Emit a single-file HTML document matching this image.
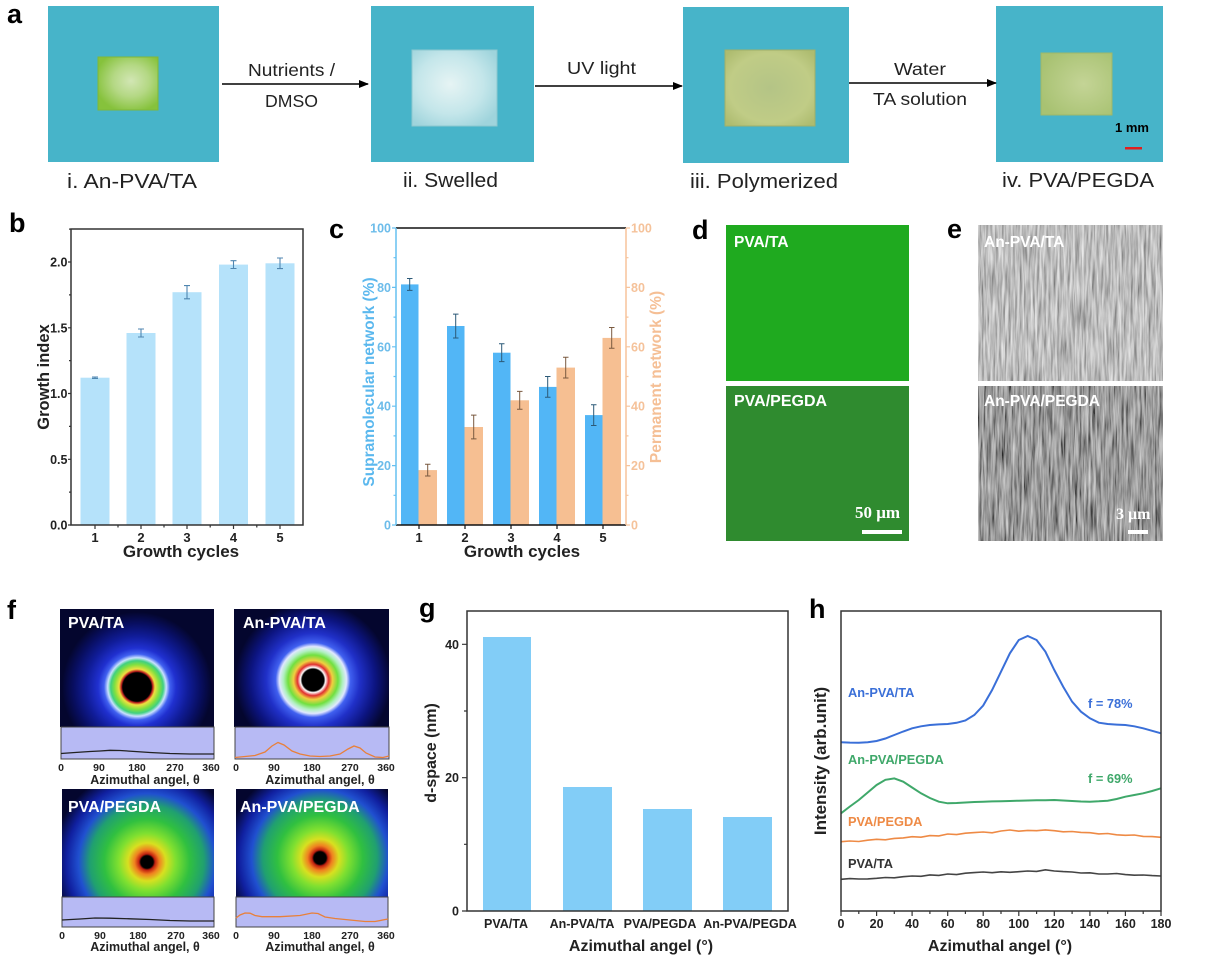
<!DOCTYPE html>
<html><head><meta charset="utf-8"><style>
html,body{margin:0;padding:0;background:#fff;}
svg{display:block;}
text{font-family:"Liberation Sans",Arial,sans-serif;}
.L{font-weight:bold;font-size:27px;fill:#000;}
.b{font-weight:bold;}
.serif{font-family:"Liberation Serif",serif;font-weight:bold;}
</style></head><body>
<svg width="1213" height="962" viewBox="0 0 1213 962" xmlns="http://www.w3.org/2000/svg">
<defs>
<radialGradient id="gel1" cx="0.55" cy="0.45" r="0.6"><stop offset="0" stop-color="#d2e6b4"/><stop offset="0.5" stop-color="#b4d884"/><stop offset="1" stop-color="#86c23c"/></radialGradient>
<radialGradient id="gel2" cx="0.45" cy="0.45" r="0.65"><stop offset="0" stop-color="#e6f4f4"/><stop offset="0.6" stop-color="#c4e6ea"/><stop offset="1" stop-color="#9fd4dc"/></radialGradient>
<radialGradient id="gel3" cx="0.5" cy="0.5" r="0.65"><stop offset="0" stop-color="#b4c486"/><stop offset="0.7" stop-color="#c0cc86"/><stop offset="1" stop-color="#aebc70"/></radialGradient>
<radialGradient id="gel4" cx="0.6" cy="0.5" r="0.65"><stop offset="0" stop-color="#c4d496"/><stop offset="1" stop-color="#a8c272"/></radialGradient>
<radialGradient id="f1" gradientUnits="userSpaceOnUse" cx="137" cy="687" r="75">
<stop offset="0" stop-color="#000"/><stop offset="0.19" stop-color="#000"/><stop offset="0.21" stop-color="#c02020"/><stop offset="0.24" stop-color="#f0e040"/><stop offset="0.3" stop-color="#80e040"/><stop offset="0.35" stop-color="#40d080"/><stop offset="0.39" stop-color="#c8e0ff"/><stop offset="0.44" stop-color="#4060f0"/><stop offset="0.52" stop-color="#2030d0"/><stop offset="0.68" stop-color="#101c98"/><stop offset="0.85" stop-color="#080e60"/><stop offset="1" stop-color="#04062e"/></radialGradient>
<radialGradient id="f2" gradientUnits="userSpaceOnUse" cx="313" cy="680" r="78">
<stop offset="0" stop-color="#000"/><stop offset="0.14" stop-color="#000"/><stop offset="0.16" stop-color="#fff"/><stop offset="0.2" stop-color="#e03030"/><stop offset="0.25" stop-color="#f0d040"/><stop offset="0.32" stop-color="#70e040"/><stop offset="0.38" stop-color="#b0f0c0"/><stop offset="0.43" stop-color="#e0e8ff"/><stop offset="0.48" stop-color="#4060f0"/><stop offset="0.6" stop-color="#2030c8"/><stop offset="0.8" stop-color="#0c1480"/><stop offset="1" stop-color="#04062e"/></radialGradient>
<radialGradient id="f3" gradientUnits="userSpaceOnUse" cx="147" cy="862" r="95">
<stop offset="0" stop-color="#000"/><stop offset="0.065" stop-color="#000"/><stop offset="0.085" stop-color="#c02010"/><stop offset="0.13" stop-color="#f08020"/><stop offset="0.2" stop-color="#d8e020"/><stop offset="0.3" stop-color="#80e030"/><stop offset="0.45" stop-color="#30c040"/><stop offset="0.6" stop-color="#20a070"/><stop offset="0.72" stop-color="#2050d0"/><stop offset="0.85" stop-color="#1020a0"/><stop offset="1" stop-color="#04062e"/></radialGradient>
<radialGradient id="f4" gradientUnits="userSpaceOnUse" cx="320" cy="858" r="95">
<stop offset="0" stop-color="#000"/><stop offset="0.065" stop-color="#000"/><stop offset="0.085" stop-color="#c02010"/><stop offset="0.13" stop-color="#f08020"/><stop offset="0.2" stop-color="#d8e020"/><stop offset="0.3" stop-color="#80e030"/><stop offset="0.45" stop-color="#30c040"/><stop offset="0.6" stop-color="#20a070"/><stop offset="0.72" stop-color="#2050d0"/><stop offset="0.85" stop-color="#1020a0"/><stop offset="1" stop-color="#04062e"/></radialGradient>
<filter id="semTop" filterUnits="userSpaceOnUse" x="978" y="225" width="185" height="156">
<feTurbulence type="fractalNoise" baseFrequency="0.45 0.03" numOctaves="3" seed="4"/>
<feColorMatrix type="matrix" values="0.9 0 0 0 0.06  0.9 0 0 0 0.06  0.9 0 0 0 0.06  0 0 0 0 1"/>
</filter>
<filter id="semBot" filterUnits="userSpaceOnUse" x="978" y="386" width="185" height="155">
<feTurbulence type="fractalNoise" baseFrequency="0.45 0.03" numOctaves="3" seed="9"/>
<feColorMatrix type="matrix" values="0.9 0 0 0 -0.12  0.9 0 0 0 -0.12  0.9 0 0 0 -0.12  0 0 0 0 1"/>
</filter>
<marker id="ah" markerWidth="10" markerHeight="8" refX="9" refY="4" orient="auto" markerUnits="userSpaceOnUse"><path d="M0,0 L10,4 L0,8 Z" fill="#000"/></marker>
</defs>

<!-- ===== Panel a ===== -->
<text class="L" x="7" y="23">a</text>
<rect x="48" y="6" width="171" height="156" fill="#47b4c9"/>
<rect x="98" y="57" width="60" height="53" fill="url(#gel1)" stroke="#7fb83a" stroke-width="1"/>
<rect x="371" y="6" width="163" height="156" fill="#47b4c9"/>
<rect x="412" y="50" width="85" height="76" fill="url(#gel2)" stroke="#8cc8d0" stroke-width="1"/>
<rect x="683" y="7" width="166" height="156" fill="#47b4c9"/>
<rect x="725" y="50" width="90" height="76" fill="url(#gel3)" stroke="#9fb06a" stroke-width="1"/>
<rect x="996" y="6" width="167" height="156" fill="#47b4c9"/>
<rect x="1041" y="53" width="71" height="62" fill="url(#gel4)" stroke="#9db86a" stroke-width="1"/>
<text class="b" x="1115" y="132" font-size="13" fill="#000">1 mm</text>
<rect x="1125" y="147" width="17" height="2.5" fill="#e02020"/>

<line x1="222" y1="84" x2="368" y2="84" stroke="#000" stroke-width="1.6" marker-end="url(#ah)"/>
<line x1="535" y1="86" x2="682" y2="86" stroke="#000" stroke-width="1.6" marker-end="url(#ah)"/>
<line x1="849" y1="83" x2="996" y2="83" stroke="#000" stroke-width="1.6" marker-end="url(#ah)"/>
<text x="248" y="76" font-size="17.5" fill="#222" textLength="87" lengthAdjust="spacingAndGlyphs">Nutrients /</text>
<text x="265" y="107" font-size="17.5" fill="#222" textLength="53" lengthAdjust="spacingAndGlyphs">DMSO</text>
<text x="567" y="74" font-size="17.5" fill="#222" textLength="69" lengthAdjust="spacingAndGlyphs">UV light</text>
<text x="894" y="75" font-size="17.5" fill="#222" textLength="52" lengthAdjust="spacingAndGlyphs">Water</text>
<text x="873" y="105" font-size="17.5" fill="#222" textLength="94" lengthAdjust="spacingAndGlyphs">TA solution</text>
<text x="67" y="188" font-size="20" fill="#222" textLength="130" lengthAdjust="spacingAndGlyphs">i. An-PVA/TA</text>
<text x="403" y="187" font-size="20" fill="#222" textLength="95" lengthAdjust="spacingAndGlyphs">ii. Swelled</text>
<text x="690" y="188" font-size="20" fill="#222" textLength="148" lengthAdjust="spacingAndGlyphs">iii. Polymerized</text>
<text x="1002" y="187" font-size="20" fill="#222" textLength="152" lengthAdjust="spacingAndGlyphs">iv. PVA/PEGDA</text>

<!-- ===== Panel b ===== -->
<text class="L" x="9" y="232">b</text>
<g fill="#b5e2fa">
<rect x="80.5" y="377.7" width="29" height="147.3"/>
<rect x="126.5" y="333" width="29" height="192"/>
<rect x="172.5" y="292.2" width="29" height="232.8"/>
<rect x="219" y="264.6" width="29" height="260.4"/>
<rect x="265.5" y="263.3" width="29" height="261.7"/>
</g>
<g stroke="#4f86b0" stroke-width="1.1" fill="none">
<path d="M95,377 V378.4 M92,377 H98 M92,378.4 H98"/>
<path d="M141,329 V337 M138,329 H144 M138,337 H144"/>
<path d="M187,285.6 V298.8 M184,285.6 H190 M184,298.8 H190"/>
<path d="M233.5,260.7 V268.5 M230.5,260.7 H236.5 M230.5,268.5 H236.5"/>
<path d="M280,258 V268.6 M277,258 H283 M277,268.6 H283"/>
</g>
<rect x="71" y="229" width="232" height="296" fill="none" stroke="#333" stroke-width="1.5"/>
<g stroke="#333" stroke-width="1.2">
<path d="M71,525 h-3 M71,459.3 h-3 M71,393.5 h-3 M71,327.8 h-3 M71,262 h-3"/>
<path d="M71,492.1 h-2 M71,426.4 h-2 M71,360.6 h-2 M71,294.9 h-2 M71,229.1 h-2"/>
<path d="M95,525 v4 M141,525 v4 M187,525 v4 M233.5,525 v4 M280,525 v4"/>
<path d="M118,525 v2.5 M164,525 v2.5 M210.2,525 v2.5 M256.8,525 v2.5"/>
</g>
<g class="b" font-size="12.5" fill="#222" text-anchor="end">
<text x="67.5" y="529.5">0.0</text><text x="67.5" y="463.8">0.5</text><text x="67.5" y="398">1.0</text><text x="67.5" y="332.3">1.5</text><text x="67.5" y="266.5">2.0</text>
</g>
<g class="b" font-size="13" fill="#222" text-anchor="middle">
<text x="95" y="542">1</text><text x="141" y="542">2</text><text x="187" y="542">3</text><text x="233.5" y="542">4</text><text x="280" y="542">5</text>
</g>
<text class="b" x="181" y="557" font-size="17" fill="#222" text-anchor="middle">Growth cycles</text>
<text class="b" font-size="16.5" fill="#222" text-anchor="middle" transform="translate(49,377) rotate(-90)">Growth index</text>

<!-- ===== Panel c ===== -->
<text class="L" x="329" y="238">c</text>
<g fill="#52b6f6">
<rect x="401" y="284.4" width="17.5" height="240.6"/>
<rect x="447" y="326" width="17.5" height="199"/>
<rect x="493" y="352.7" width="17.5" height="172.3"/>
<rect x="539" y="386.9" width="17.5" height="138.1"/>
<rect x="585" y="415.1" width="17.5" height="109.9"/>
</g>
<g fill="#f6bf92">
<rect x="418.5" y="470.1" width="18.5" height="54.9"/>
<rect x="464.5" y="427" width="18.5" height="98"/>
<rect x="510.5" y="400.3" width="18.5" height="124.7"/>
<rect x="556.5" y="367.6" width="18.5" height="157.4"/>
<rect x="602.5" y="337.9" width="18.5" height="187.1"/>
</g>
<g stroke="#2c5a78" stroke-width="1" fill="none">
<path d="M409.7,278.5 V290.4 M407,278.5 h5.5 M407,290.4 h5.5"/>
<path d="M455.7,314.1 V338 M453,314.1 h5.5 M453,338 h5.5"/>
<path d="M501.7,343.8 V361.6 M499,343.8 h5.5 M499,361.6 h5.5"/>
<path d="M547.7,376.5 V397.3 M545,376.5 h5.5 M545,397.3 h5.5"/>
<path d="M593.7,404.7 V425.5 M591,404.7 h5.5 M591,425.5 h5.5"/>
</g>
<g stroke="#7a5a40" stroke-width="1" fill="none">
<path d="M427.7,464.2 V476 M425,464.2 h5.5 M425,476 h5.5"/>
<path d="M473.7,415.1 V438.9 M471,415.1 h5.5 M471,438.9 h5.5"/>
<path d="M519.7,391.4 V409.2 M517,391.4 h5.5 M517,409.2 h5.5"/>
<path d="M565.7,357.2 V378 M563,357.2 h5.5 M563,378 h5.5"/>
<path d="M611.7,327.5 V348.3 M609,327.5 h5.5 M609,348.3 h5.5"/>
</g>
<line x1="396" y1="228" x2="626" y2="228" stroke="#111" stroke-width="1.5"/>
<line x1="396" y1="525" x2="626" y2="525" stroke="#111" stroke-width="1.5"/>
<line x1="396" y1="228" x2="396" y2="525" stroke="#66c0f0" stroke-width="1.5"/>
<line x1="626" y1="228" x2="626" y2="525" stroke="#f7c49c" stroke-width="1.5"/>
<g stroke="#66c0f0" stroke-width="1.2">
<path d="M396,525 h-4 M396,465.6 h-4 M396,406.2 h-4 M396,346.8 h-4 M396,287.4 h-4 M396,228 h-4"/>
<path d="M396,495.3 h-2.5 M396,435.9 h-2.5 M396,376.5 h-2.5 M396,317.1 h-2.5 M396,257.7 h-2.5"/>
</g>
<g stroke="#f7c49c" stroke-width="1.2">
<path d="M626,525 h4 M626,465.6 h4 M626,406.2 h4 M626,346.8 h4 M626,287.4 h4 M626,228 h4"/>
<path d="M626,495.3 h2.5 M626,435.9 h2.5 M626,376.5 h2.5 M626,317.1 h2.5 M626,257.7 h2.5"/>
</g>
<g stroke="#111" stroke-width="1.2">
<path d="M419,525 v4 M465,525 v4 M511,525 v4 M557,525 v4 M603,525 v4"/>
</g>
<g class="b" font-size="12.5" fill="#6cbcea" text-anchor="end">
<text x="391" y="529.5">0</text><text x="391" y="470">20</text><text x="391" y="410.7">40</text><text x="391" y="351.3">60</text><text x="391" y="291.9">80</text><text x="391" y="232.5">100</text>
</g>
<g class="b" font-size="12.5" fill="#f5c29a">
<text x="631" y="529.5">0</text><text x="631" y="470">20</text><text x="631" y="410.7">40</text><text x="631" y="351.3">60</text><text x="631" y="291.9">80</text><text x="631" y="232.5">100</text>
</g>
<g class="b" font-size="13" fill="#222" text-anchor="middle">
<text x="419" y="542">1</text><text x="465" y="542">2</text><text x="511" y="542">3</text><text x="557" y="542">4</text><text x="603" y="542">5</text>
</g>
<text class="b" x="522" y="557" font-size="17" fill="#222" text-anchor="middle">Growth cycles</text>
<text class="b" font-size="15.5" fill="#5bb8ee" text-anchor="middle" transform="translate(374,382) rotate(-90)">Supramolecular network (%)</text>
<text class="b" font-size="15.5" fill="#f5bf95" text-anchor="middle" transform="translate(661,377) rotate(-90)">Permanent network (%)</text>

<!-- ===== Panel d ===== -->
<text class="L" x="692" y="239">d</text>
<rect x="726" y="225" width="183" height="156" fill="#1faa1f"/>
<rect x="726" y="386" width="183" height="155" fill="#2f8b2f"/>
<text class="b" x="734" y="247" font-size="15.5" fill="#fff">PVA/TA</text>
<text class="b" x="734" y="406" font-size="16" fill="#fff">PVA/PEGDA</text>
<text class="serif" x="855" y="518" font-size="17" fill="#fff">50 μm</text>
<rect x="862" y="530" width="40" height="4" fill="#fff"/>

<!-- ===== Panel e ===== -->
<text class="L" x="947" y="238">e</text>
<rect x="978" y="225" width="185" height="156" fill="#8a8a8a" filter="url(#semTop)"/>
<rect x="978" y="386" width="185" height="155" fill="#5a5a5a" filter="url(#semBot)"/>
<text class="b" x="984" y="247" font-size="15.5" fill="#fff">An-PVA/TA</text>
<text class="b" x="984" y="406" font-size="15.5" fill="#fff">An-PVA/PEGDA</text>
<text class="serif" x="1116" y="519" font-size="16" fill="#fff">3 μm</text>
<rect x="1128" y="530" width="20" height="4" fill="#fff"/>

<!-- ===== Panel f ===== -->
<text class="L" x="7" y="619">f</text>
<rect x="60" y="609" width="154" height="118" fill="url(#f1)"/>
<rect x="234" y="609" width="155" height="118" fill="url(#f2)"/>
<rect x="62" y="789" width="152" height="108" fill="url(#f3)"/>
<rect x="236" y="789" width="152" height="108" fill="url(#f4)"/>
<text class="b" x="68" y="628" font-size="16" fill="#fff">PVA/TA</text>
<text class="b" x="243" y="628" font-size="16" fill="#fff">An-PVA/TA</text>
<text class="b" x="68" y="812" font-size="16" fill="#fff">PVA/PEGDA</text>
<text class="b" x="240" y="812" font-size="16" fill="#fff">An-PVA/PEGDA</text>
<rect x="61" y="727" width="153" height="32" fill="#b7baf4" stroke="#444" stroke-width="1"/>
<rect x="235" y="727" width="154" height="32" fill="#b7baf4" stroke="#444" stroke-width="1"/>
<rect x="62" y="897" width="152" height="30" fill="#b7baf4" stroke="#444" stroke-width="1"/>
<rect x="236" y="897" width="152" height="30" fill="#b7baf4" stroke="#444" stroke-width="1"/>
<polyline fill="none" stroke="#222" stroke-width="1.3" points="61,753.5 75,752.5 90,751.5 100,751 110,750.3 120,750.5 135,751.5 150,752.5 170,753.5 190,754 214,754"/>
<polyline fill="none" stroke="#e8803a" stroke-width="1.3" points="235,757.5 245,756.5 255,755.5 265,752 272,746 278,742.5 284,745 292,751 300,754 310,756 320,756.5 330,756 340,754 348,749 354,746 360,748 366,753 375,757 383,757.5 389,756"/>
<polyline fill="none" stroke="#222" stroke-width="1.3" points="62,920 80,919 95,918 110,918.2 130,918.8 150,919.5 170,920.5 190,921 214,921"/>
<polyline fill="none" stroke="#e8803a" stroke-width="1.3" points="236,918 240,915 245,913 250,913.2 255,915.5 262,916.7 280,916.7 300,915.5 312,913 318,913.5 325,917 335,918.5 350,920 365,921.5 375,921.5 388,919"/>
<g class="b" font-size="10.5" fill="#222" text-anchor="middle">
<text x="61" y="771">0</text><text x="99" y="771">90</text><text x="137" y="771">180</text><text x="175" y="771">270</text><text x="211" y="771">360</text>
<text x="236" y="771">0</text><text x="274" y="771">90</text><text x="312" y="771">180</text><text x="350" y="771">270</text><text x="386" y="771">360</text>
<text x="62" y="939">0</text><text x="100" y="939">90</text><text x="138" y="939">180</text><text x="176" y="939">270</text><text x="211" y="939">360</text>
<text x="236" y="939">0</text><text x="274" y="939">90</text><text x="312" y="939">180</text><text x="350" y="939">270</text><text x="386" y="939">360</text>
</g>
<g class="b" font-size="12.5" fill="#222" text-anchor="middle">
<text x="145" y="784">Azimuthal angel, θ</text>
<text x="320" y="784">Azimuthal angel, θ</text>
<text x="145" y="951">Azimuthal angel, θ</text>
<text x="320" y="951">Azimuthal angel, θ</text>
</g>

<!-- ===== Panel g ===== -->
<text class="L" x="419" y="617">g</text>
<g fill="#82cdf7">
<rect x="483" y="637" width="48" height="274"/>
<rect x="563" y="787" width="49" height="124"/>
<rect x="643" y="809" width="49" height="102"/>
<rect x="723" y="817" width="49" height="94"/>
</g>
<rect x="467" y="611" width="321" height="300" fill="none" stroke="#333" stroke-width="1.5"/>
<g stroke="#333" stroke-width="1.2">
<path d="M467,911 h-5 M467,777.7 h-5 M467,644.3 h-5 M467,844.3 h-3 M467,711 h-3"/>
</g>
<g class="b" font-size="12.5" fill="#222" text-anchor="end">
<text x="459" y="915.5">0</text><text x="459" y="782">20</text><text x="459" y="648.8">40</text>
</g>
<g class="b" font-size="12.5" fill="#222" text-anchor="middle">
<text x="506" y="928">PVA/TA</text><text x="582" y="928">An-PVA/TA</text><text x="660" y="928">PVA/PEGDA</text><text x="750" y="928">An-PVA/PEGDA</text>
</g>
<text class="b" x="641" y="951" font-size="16" fill="#222" text-anchor="middle">Azimuthal angel (°)</text>
<text class="b" font-size="16" fill="#222" text-anchor="middle" transform="translate(436,753) rotate(-90)">d-space (nm)</text>

<!-- ===== Panel h ===== -->
<text class="L" x="809" y="618">h</text>
<polyline fill="none" stroke="#3a6fd8" stroke-width="2" points="841,742.3 849.9,742.6 858.8,742.7 867.7,742.2 876.6,741 885.4,738.5 894.3,735 903.2,731.5 912.1,728.3 921,726.3 929.9,725 938.8,724.4 947.7,724 956.6,722.8 965.4,720.5 974.3,715 983.2,705.5 992.1,690 1001,671.7 1009.9,653.3 1018.8,640 1027.7,636 1036.6,640 1045.4,651.7 1054.3,670 1063.2,686.7 1072.1,701.7 1081,711.7 1089.9,718.3 1098.8,722.7 1107.7,724 1116.6,724.6 1125.4,725 1134.3,726.3 1143.2,728.3 1152.1,730.8 1161,733.3"/>
<polyline fill="none" stroke="#3fa86a" stroke-width="2" points="841,813.3 849.9,806.5 858.8,800 867.7,792.5 876.6,785 885.4,779.8 894.3,778.4 903.2,781.7 912.1,787.5 921,793.3 929.9,798 938.8,801.7 947.7,803.3 956.6,803 965.4,802.5 974.3,802 983.2,801.7 992.1,801.4 1001,801.2 1009.9,801 1018.8,800.7 1027.7,800.5 1036.6,800.3 1045.4,800.2 1054.3,800 1063.2,800.5 1072.1,801 1081,801.5 1089.9,801.7 1098.8,801.3 1107.7,800.7 1116.6,799 1125.4,796.7 1134.3,795 1143.2,793.3 1152.1,791 1161,788.3"/>
<polyline fill="none" stroke="#ee8a45" stroke-width="1.6" points="841,841.7 849.9,841 858.8,841.5 867.7,840.2 876.6,839.3 885.4,839.8 894.3,838.4 903.2,837.9 912.1,836.7 921,837.2 929.9,835.6 938.8,835.9 947.7,834 956.6,834.6 965.4,833.2 974.3,832.6 983.2,832 992.1,832.8 1001,831 1009.9,830 1018.8,831.2 1027.7,830.4 1036.6,830.7 1045.4,829.9 1054.3,830.7 1063.2,831.8 1072.1,831.5 1081,832.4 1089.9,832.7 1098.8,833.9 1107.7,833.5 1116.6,834.8 1125.4,835.3 1134.3,835 1143.2,836.4 1152.1,836.6 1161,837.3"/>
<polyline fill="none" stroke="#444" stroke-width="1.6" points="841,879.3 849.9,878.6 858.8,879 867.7,878.9 876.6,878.3 885.4,877.5 894.3,877.8 903.2,876.7 912.1,876 921,876.3 929.9,874.9 938.8,875.4 947.7,874 956.6,874.6 965.4,873.2 974.3,872.6 983.2,872 992.1,872.7 1001,871.8 1009.9,872.3 1018.8,871.7 1027.7,871 1036.6,871.4 1045.4,869.8 1054.3,871 1063.2,871.6 1072.1,872 1081,873 1089.9,872.8 1098.8,874 1107.7,874 1116.6,873.5 1125.4,874.6 1134.3,875.2 1143.2,875 1152.1,875.6 1161,876"/>
<rect x="841" y="611" width="320" height="300" fill="none" stroke="#333" stroke-width="1.5"/>
<g stroke="#333" stroke-width="1.2">
<path d="M841,911 v5 M876.6,911 v5 M912.1,911 v5 M947.7,911 v5 M983.2,911 v5 M1018.8,911 v5 M1054.3,911 v5 M1089.9,911 v5 M1125.4,911 v5 M1161,911 v5"/>
<path d="M858.8,911 v3 M894.3,911 v3 M929.9,911 v3 M965.4,911 v3 M1001,911 v3 M1036.6,911 v3 M1072.1,911 v3 M1107.7,911 v3 M1143.2,911 v3"/>
</g>
<g class="b" font-size="12.5" fill="#222" text-anchor="middle">
<text x="841" y="928">0</text><text x="876.6" y="928">20</text><text x="912.1" y="928">40</text><text x="947.7" y="928">60</text><text x="983.2" y="928">80</text><text x="1018.8" y="928">100</text><text x="1054.3" y="928">120</text><text x="1089.9" y="928">140</text><text x="1125.4" y="928">160</text><text x="1161" y="928">180</text>
</g>
<text class="b" x="1000" y="951" font-size="16" fill="#222" text-anchor="middle">Azimuthal angel (°)</text>
<text class="b" font-size="17" fill="#222" text-anchor="middle" transform="translate(826,761) rotate(-90)">Intensity (arb.unit)</text>
<g class="b" font-size="12.8">
<text x="848" y="697" fill="#3a6fd8">An-PVA/TA</text>
<text x="1088" y="708" fill="#3a6fd8">f = 78%</text>
<text x="848" y="764" fill="#3fa86a">An-PVA/PEGDA</text>
<text x="1088" y="783" fill="#3fa86a">f = 69%</text>
<text x="848" y="826" fill="#ee8a45">PVA/PEGDA</text>
<text x="848" y="868" fill="#333">PVA/TA</text>
</g>
</svg>
</body></html>
